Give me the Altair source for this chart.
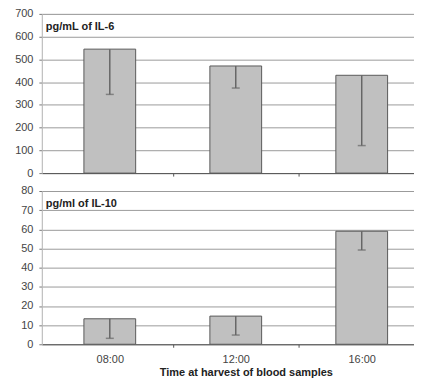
import altair as alt
import pandas as pd

# ---- data ----
times = ["08:00", "12:00", "16:00"]
il6_mean = [545, 471, 430]
il6_lower = [346, 374, 121]
il10_mean = [13.3, 14.7, 59.0]
il10_lower = [3.1, 4.8, 49.2]

title_top = "pg/mL of IL-6"
title_bottom = "pg/ml of IL-10"
x_title = "Time at harvest of blood samples"

FONT = "Liberation Sans"
W = 381
XMAX = W / 130.0

pos = [i + 0.5 for i in range(len(times))]
tick_vals = [0.5, 1, 1.5, 2, 2.5]
label_expr = ("datum.value % 1 === 0 ? '' : " + str(times) + "[floor(datum.value)]")

tick_op = {"condition": {"test": "datum.value % 1 === 0", "value": 1}, "value": 0}


def panel(means, lowers, ymax, ystep, height, label, bottom):
    df = pd.DataFrame({"pos": pos, "value": means, "lower": lowers})
    if bottom:
        xaxis = alt.Axis(
            values=tick_vals, labels=True, labelExpr=label_expr, labelFont=FONT,
            labelFontSize=11, labelColor="#444", labelPadding=6,
            tickOpacity=tick_op, tickSize=3, tickColor="#555", domainColor="#555",
            grid=False, title=x_title, titleFont=FONT, titleFontSize=11,
            titleFontWeight="bold", titleColor="#222", titlePadding=2, titleX=205,
        )
    else:
        xaxis = alt.Axis(
            values=tick_vals, labels=False, tickOpacity=tick_op, tickSize=3,
            tickColor="#555", domainColor="#555", grid=False, title=None,
        )
    xsc = alt.Scale(domain=[0, XMAX], nice=False, zero=True)
    yaxis = alt.Axis(
        values=list(range(0, ymax + 1, ystep)), grid=True, gridColor="#9a9a9a",
        gridWidth=1, tickSize=3, tickColor="#777", domainColor="#bbb",
        labelFont=FONT, labelFontSize=11, labelColor="#444", labelPadding=6,
        minExtent=33, maxExtent=33, title=None,
    )
    ysc = alt.Scale(domain=[0, ymax], nice=False)
    base = alt.Chart(df)
    bars = base.mark_bar(size=52, fill="#c0c0c0", stroke="#5a5a5a", strokeWidth=1).encode(
        x=alt.X("pos:Q", scale=xsc, axis=xaxis), y=alt.Y("value:Q", scale=ysc, axis=yaxis))
    rule = base.mark_rule(color="#666", strokeWidth=1.5).encode(
        x=alt.X("pos:Q", scale=xsc, axis=xaxis),
        y=alt.Y("lower:Q", scale=ysc, axis=yaxis), y2="value:Q")
    cap = base.mark_tick(orient="horizontal", size=8, thickness=1.5, color="#666").encode(
        x=alt.X("pos:Q", scale=xsc, axis=xaxis), y=alt.Y("lower:Q", scale=ysc, axis=yaxis))
    txt = alt.Chart(pd.DataFrame({"t": [label]})).mark_text(
        align="left", baseline="middle", font=FONT, fontSize=11, fontWeight="bold",
        color="#222").encode(x=alt.value(4), y=alt.value(13), text="t:N")
    return alt.layer(bars, rule, cap, txt).properties(width=W, height=height)


top = panel(il6_mean, il6_lower, 700, 100, 160, title_top, False)
bottom = panel(il10_mean, il10_lower, 80, 10, 154, title_bottom, True)

chart = alt.vconcat(top, bottom, spacing=5).properties(
    padding={"left": 0, "top": -2, "right": -8, "bottom": 0}
).configure_view(stroke=None).configure(font=FONT, background="white")

chart.save("out.html", embed_options={"renderer": "svg", "actions": False})
